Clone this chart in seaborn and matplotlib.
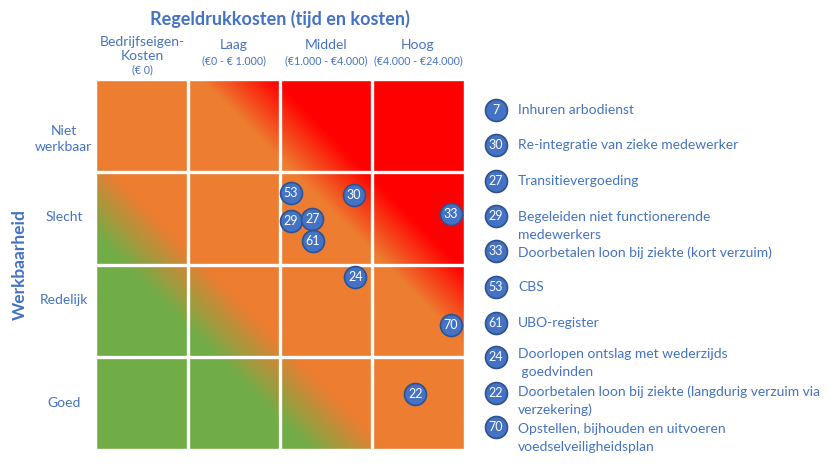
import numpy as np
import matplotlib
matplotlib.use("Agg")
import matplotlib.pyplot as plt
import seaborn as sns
from matplotlib.colors import LinearSegmentedColormap

# categories
cost_names = ["Bedrijfseigen-\nKosten", "Laag", "Middel", "Hoog"]
cost_ranges = ["(€ 0)", "(€0 - € 1.000)", "(€1.000 - €4.000)", "(€4.000 - €24.000)"]
work_names = ["Goed", "Redelijk", "Slecht", "Niet\nwerkbaar"]

# items on the grid (cost position, workability position)
point_ids = [53, 30, 33, 29, 27, 61, 24, 70, 22]
point_cost = [2.12, 2.80, 3.86, 2.12, 2.35, 2.36, 2.82, 3.86, 3.47]
point_work = [2.77, 2.75, 2.55, 2.47, 2.49, 2.25, 1.86, 1.34, 0.60]

# legend
legend_ids = [7, 30, 27, 29, 33, 53, 61, 24, 22, 70]
legend_labels = [
    "Inhuren arbodienst",
    "Re-integratie van zieke medewerker",
    "Transitievergoeding",
    "Begeleiden niet functionerende\nmedewerkers",
    "Doorbetalen loon bij ziekte (kort verzuim)",
    "CBS",
    "UBO-register",
    "Doorlopen ontslag met wederzijds\n goedvinden",
    "Doorbetalen loon bij ziekte (langdurig verzuim via\nverzekering)",
    "Opstellen, bijhouden en uitvoeren\nvoedselveiligheidsplan",
]

BLUE = "#4472C4"
EDGE = "#2F528F"

sns.set_style("white")
plt.rcParams["font.family"] = ["Lato", "DejaVu Sans"]

fig = plt.figure(figsize=(8.3, 4.65), dpi=100)
ax = fig.add_axes([96 / 830, 16 / 465, 368 / 830, 369 / 465])


def py(p):
    # pixel row -> data y
    return (449 - p) / 92.25


# diagonal gradient background green -> orange -> red
cmap = LinearSegmentedColormap.from_list(
    "risk",
    [(0, "#70AD47"), (2.3 / 8, "#70AD47"), (3.15 / 8, "#ED7D31"),
     (5.15 / 8, "#ED7D31"), (5.95 / 8, "#FF0000"), (1, "#FF0000")])
g = np.linspace(0, 4, 400)
X, Y = np.meshgrid(g, g)
ax.imshow(X + Y, cmap=cmap, vmin=0, vmax=8, origin="lower",
          extent=[0, 4, 0, 4], aspect="auto", interpolation="bilinear")
for v in [1, 2, 3]:
    ax.axvline(v, color="white", lw=2.4)
    ax.axhline(v, color="white", lw=2.4)
for v in [0, 4]:
    ax.axvline(v, color="white", lw=1.0)
    ax.axhline(v, color="white", lw=1.0)

sns.scatterplot(x=point_cost, y=point_work, s=250, color=BLUE,
                edgecolor=EDGE, linewidth=1.2, ax=ax, zorder=5)
for i, cx, cy in zip(point_ids, point_cost, point_work):
    ax.text(cx, cy, str(i), color="white", fontsize=9, ha="center",
            va="center", zorder=6)

ax.set_xlim(0, 4)
ax.set_ylim(0, 4)
ax.axis("off")

# titles and category labels
ax.text(2.0, py(19), "Regeldrukkosten (tijd en kosten)", color=BLUE,
        fontsize=13, fontweight="bold", ha="center", va="center")
ax.text(0.5, py(42.5), "Bedrijfseigen-", color=BLUE, fontsize=10,
        ha="center", va="center")
ax.text(0.5, py(56), "Kosten", color=BLUE, fontsize=10,
        ha="center", va="center")
ax.text(0.5, py(70), cost_ranges[0], color=BLUE, fontsize=7.7,
        ha="center", va="center")
for k in range(1, 4):
    ax.text(k + 0.5, py(45), cost_names[k], color=BLUE, fontsize=10,
            ha="center", va="center")
    ax.text(k + 0.5, py(61), cost_ranges[k], color=BLUE, fontsize=7.7,
            ha="center", va="center")

row_y = [403, 300, 217, 139]
for name, p in zip(work_names, row_y):
    ax.text(-0.35, py(p), name, color=BLUE, fontsize=10, ha="center",
            va="center", linespacing=1.35)
ax.text(-0.83, py(265), "Werkbaarheid", color=BLUE, fontsize=12.5,
        fontweight="bold", rotation=90, ha="center", va="center")

# legend
leg_circle_y = [110, 145, 181, 216, 251, 287, 323, 357, 393, 427]
leg_text_y = [110, 145, 181, 217, 253, 287, 323, 354, 392, 429]
leg_x = (496 - 96) / 92
txt_x = (518 - 96) / 92
sns.scatterplot(x=[leg_x] * len(legend_ids), y=[py(p) for p in leg_circle_y],
                s=250, color=BLUE, edgecolor=EDGE, linewidth=1.2, ax=ax,
                zorder=5)
ax.collections[-1].set_clip_on(False)
for i, lab, cp, tp in zip(legend_ids, legend_labels, leg_circle_y, leg_text_y):
    ax.text(leg_x, py(cp), str(i), color="white", fontsize=9, ha="center",
            va="center", zorder=6)
    for j, line in enumerate(lab.split("\n")):
        ax.text(txt_x, py(tp + 18 * j), line, color=BLUE, fontsize=10,
                ha="left", va="center")

ax.set_xlim(0, 4)
ax.set_ylim(0, 4)
fig.savefig("out.png", dpi=100)
